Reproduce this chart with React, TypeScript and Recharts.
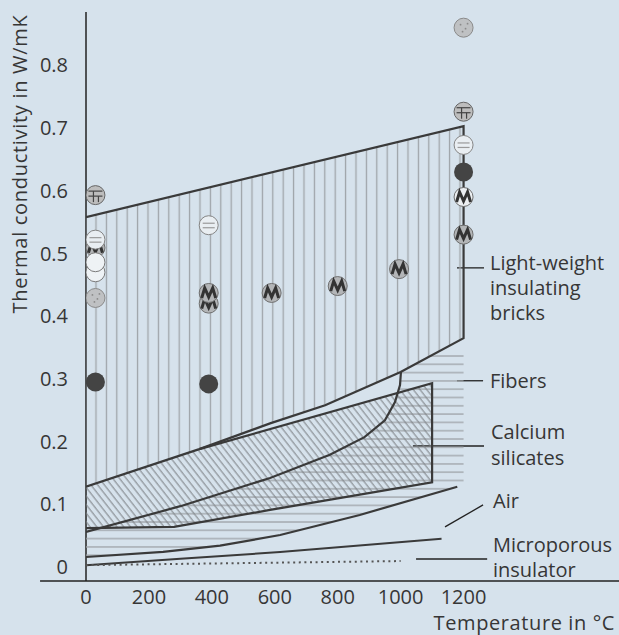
import React from "react";
import { ComposedChart, XAxis, YAxis, Scatter, ReferenceLine } from "recharts";

const BG = "#d6e2ec";
const INK = "#363636";
const DARK = "#3a3a3a";
const HATCH = "#9ea3a8";

const X_TICKS = [0, 200, 400, 600, 800, 1000, 1200];
const Y_TICKS = [0, 0.1, 0.2, 0.3, 0.4, 0.5, 0.6, 0.7, 0.8];
const X_MIN = 0;
const X_MAX = 1694;
const Y_MIN = -0.0223;
const Y_MAX = 0.885;

// band outlines (temperature °C, W/mK)
const BRICK_TOP = [
  { x: 0, y: 0.558 },
  { x: 1200, y: 0.703 },
];
const BRICK_BOTTOM = [
  { x: 0, y: 0.128 },
  { x: 360, y: 0.188 },
  { x: 585, y: 0.229 },
  { x: 760, y: 0.258 },
  { x: 1000, y: 0.311 },
  { x: 1200, y: 0.365 },
];
const CALCIUM_TOP = [
  { x: 0, y: 0.128 },
  { x: 360, y: 0.188 },
  { x: 1100, y: 0.293 },
];
const CALCIUM_BOTTOM = [
  { x: 0, y: 0.062 },
  { x: 280, y: 0.064 },
  { x: 585, y: 0.091 },
  { x: 1100, y: 0.135 },
];
const FIBER_TOP = [
  { x: 0, y: 0.056 },
  { x: 300, y: 0.097 },
  { x: 585, y: 0.142 },
  { x: 775, y: 0.179 },
  { x: 885, y: 0.207 },
  { x: 950, y: 0.234 },
  { x: 982, y: 0.263 },
  { x: 998, y: 0.29 },
  { x: 1001, y: 0.311 },
];
const FIBER_CAP = [
  { x: 1090, y: 0.337 },
  { x: 1200, y: 0.342 },
  { x: 1200, y: 0.131 },
];
const FIBER_BOTTOM = [
  { x: 0, y: 0.016 },
  { x: 245, y: 0.024 },
  { x: 426, y: 0.034 },
  { x: 617, y: 0.051 },
  { x: 870, y: 0.083 },
  { x: 1180, y: 0.128 },
];
const AIR = [
  { x: 0, y: 0.003 },
  { x: 300, y: 0.013 },
  { x: 617, y: 0.024 },
  { x: 1130, y: 0.045 },
];
const MICROPOROUS = [
  { x: 0, y: 0.003 },
  { x: 1000, y: 0.0095 },
];

// measured points for individual brick grades
const DOTS_ZIGZAG = [
  { x: 30, y: 0.509 },
  { x: 390, y: 0.42 },
  { x: 390, y: 0.437 },
  { x: 590, y: 0.437 },
  { x: 800, y: 0.448 },
  { x: 995, y: 0.475 },
  { x: 1200, y: 0.53 },
];
const DOTS_ZIGZAG_LIGHT = [{ x: 1200, y: 0.59 }];
const DOTS_OPEN = [
  { x: 30, y: 0.47 },
  { x: 30, y: 0.486 },
];
const DOTS_STRIPED = [
  { x: 30, y: 0.522 },
  { x: 390, y: 0.545 },
  { x: 1200, y: 0.673 },
];
const DOTS_GRID = [
  { x: 30, y: 0.593 },
  { x: 1200, y: 0.726 },
];
const DOTS_STIPPLE = [
  { x: 30, y: 0.429 },
  { x: 1200, y: 0.86 },
];
const DOTS_BLACK = [
  { x: 30, y: 0.295 },
  { x: 390, y: 0.292 },
  { x: 1200, y: 0.63 },
];

const BRICK_AREA = [...BRICK_TOP, ...[...BRICK_BOTTOM].reverse()];
const BRICK_OUTLINE = [...BRICK_TOP, ...[...BRICK_BOTTOM].reverse()];
const CALCIUM_AREA = [...CALCIUM_TOP, ...[...CALCIUM_BOTTOM].reverse()];
const CALCIUM_OUTLINE = [...CALCIUM_TOP.slice(1), ...[...CALCIUM_BOTTOM].reverse()];
const FIBER_AREA = [...FIBER_TOP, ...FIBER_CAP, ...[...FIBER_BOTTOM].reverse()];

const Hidden = () => <g />;
const R = 9.5;

function dot(kind: string) {
  return (p: any) => {
    const { cx, cy } = p;
    if (cx == null || cy == null) return <g />;
    if (kind === "black") return <circle cx={cx} cy={cy} r={R} fill="#444" />;
    if (kind === "open")
      return <circle cx={cx} cy={cy} r={R} fill="#eef2f5" stroke="#7a7a7a" strokeWidth={1} />;
    if (kind === "stipple")
      return (
        <g>
          <circle cx={cx} cy={cy} r={R} fill="#bfc1c3" stroke="#8a8a8a" strokeWidth={1} />
          <circle cx={cx - 3} cy={cy - 3} r={0.9} fill="#8a8a8a" />
          <circle cx={cx + 2} cy={cy + 1} r={0.9} fill="#8a8a8a" />
          <circle cx={cx - 1} cy={cy + 4} r={0.9} fill="#8a8a8a" />
          <circle cx={cx + 4} cy={cy - 4} r={0.9} fill="#8a8a8a" />
        </g>
      );
    if (kind === "striped")
      return (
        <g>
          <circle cx={cx} cy={cy} r={R} fill="#e9eef2" stroke="#858585" strokeWidth={1} />
          <line x1={cx - 6} y1={cy - 2} x2={cx + 6} y2={cy - 2} stroke="#9a9a9a" strokeWidth={1.2} />
          <line x1={cx - 6} y1={cy + 2.5} x2={cx + 6} y2={cy + 2.5} stroke="#9a9a9a" strokeWidth={1.2} />
        </g>
      );
    if (kind === "grid")
      return (
        <g>
          <circle cx={cx} cy={cy} r={R} fill="#bdbdbd" stroke="#666" strokeWidth={1} />
          <line x1={cx - 7} y1={cy - 4} x2={cx + 7} y2={cy - 4} stroke="#444" strokeWidth={1.2} />
          <line x1={cx - 7} y1={cy + 1} x2={cx + 7} y2={cy + 1} stroke="#444" strokeWidth={1.2} />
          <line x1={cx - 2} y1={cy - 4} x2={cx - 2} y2={cy + 7} stroke="#444" strokeWidth={1.2} />
          <line x1={cx + 3} y1={cy + 1} x2={cx + 3} y2={cy + 7} stroke="#444" strokeWidth={1.2} />
        </g>
      );
    const light = kind === "zigzagLight";
    return (
      <g>
        <circle cx={cx} cy={cy} r={R} fill={light ? "#eceff2" : "#b3b5b7"} stroke="#6f6f6f" strokeWidth={1} />
        <path
          d={`M${cx - 7} ${cy + 5} L${cx - 4} ${cy - 5} L${cx} ${cy + 4} L${cx + 4} ${cy - 5} L${cx + 7} ${cy + 5}`}
          fill="none"
          stroke="#333"
          strokeWidth={3}
        />
      </g>
    );
  };
}

const Title = ({ children, ...rest }: any) => (
  <text fill={INK} fontSize={20} {...rest}>
    {children}
  </text>
);

export default function App() {
  return (
    <div
      style={{
        position: "absolute",
        left: 0,
        top: 0,
        width: 619,
        height: 635,
        background: BG,
        fontFamily: '"Open Sans", sans-serif',
      }}
    >
      <ComposedChart width={619} height={635} margin={{ top: 12, right: 0, bottom: 0, left: 0 }}>
        <defs>
          <pattern id="vlines" patternUnits="userSpaceOnUse" width={10.4} height={10}>
            <line x1={2.4} y1={0} x2={2.4} y2={10} stroke={HATCH} strokeWidth={1.3} />
          </pattern>
          <pattern id="hlines" patternUnits="userSpaceOnUse" width={10} height={8.3}>
            <line x1={0} y1={7.4} x2={10} y2={7.4} stroke={HATCH} strokeWidth={1.3} />
          </pattern>
          <pattern
            id="diag"
            patternUnits="userSpaceOnUse"
            width={5.3}
            height={10}
            patternTransform="rotate(-38)"
          >
            <line x1={1} y1={0} x2={1} y2={10} stroke="#7d8186" strokeWidth={1} />
          </pattern>
        </defs>
        <XAxis
          type="number"
          dataKey="x"
          domain={[X_MIN, X_MAX]}
          ticks={X_TICKS}
          interval={0}
          allowDataOverflow
          height={54}
          tickLine={false}
          tickMargin={3}
          axisLine={{ stroke: "#222", strokeWidth: 1.5 }}
          tick={{ fill: INK, fontSize: 20 }}
          label={() => (
            <text x={615} y={630} textAnchor="end" fill={INK} fontSize={20} letterSpacing={0.6}>
              Temperature in °C
            </text>
          )}
        />
        <YAxis
          type="number"
          dataKey="y"
          domain={[Y_MIN, Y_MAX]}
          ticks={Y_TICKS}
          interval={0}
          allowDataOverflow
          width={86}
          tickLine={false}
          tickMargin={12}
          axisLine={{ stroke: "#222", strokeWidth: 1.5 }}
          tick={{ fill: INK, fontSize: 20 }}
          tickFormatter={(v: number) => (v === 0 ? "0" : v.toFixed(1))}
          label={() => (
            <text
              transform="translate(27,164) rotate(-90)"
              textAnchor="middle"
              fill={INK}
              fontSize={20}
              letterSpacing={0.7}
            >
              Thermal conductivity in W/mK
            </text>
          )}
        />

        {/* hatched bands */}
        <Scatter data={FIBER_AREA} line={{ fill: "url(#hlines)", stroke: "none" }} shape={Hidden} isAnimationActive={false} />
        <Scatter data={CALCIUM_AREA} line={{ fill: "url(#diag)", stroke: "none" }} shape={Hidden} isAnimationActive={false} />
        <Scatter data={BRICK_AREA} line={{ fill: "url(#vlines)", stroke: "none" }} shape={Hidden} isAnimationActive={false} />

        {/* outlines */}
        <Scatter data={BRICK_OUTLINE} line={{ fill: "none", stroke: DARK, strokeWidth: 2.2 }} shape={Hidden} isAnimationActive={false} />
        <Scatter data={CALCIUM_OUTLINE} line={{ fill: "none", stroke: DARK, strokeWidth: 2.2 }} shape={Hidden} isAnimationActive={false} />
        <Scatter data={FIBER_TOP} line={{ fill: "none", stroke: DARK, strokeWidth: 2.2 }} shape={Hidden} isAnimationActive={false} />
        <Scatter data={FIBER_BOTTOM} line={{ fill: "none", stroke: DARK, strokeWidth: 2.2 }} shape={Hidden} isAnimationActive={false} />
        <Scatter data={AIR} line={{ fill: "none", stroke: DARK, strokeWidth: 2 }} shape={Hidden} isAnimationActive={false} />
        <Scatter
          data={MICROPOROUS}
          line={{ fill: "none", stroke: "#555", strokeWidth: 2, strokeDasharray: "2 3.6" }}
          shape={Hidden}
          isAnimationActive={false}
        />

        {/* measured bricks */}
        <Scatter data={DOTS_ZIGZAG} shape={dot("zigzag")} isAnimationActive={false} />
        <Scatter data={DOTS_ZIGZAG_LIGHT} shape={dot("zigzagLight")} isAnimationActive={false} />
        <Scatter data={DOTS_OPEN} shape={dot("open")} isAnimationActive={false} />
        <Scatter data={DOTS_STRIPED} shape={dot("striped")} isAnimationActive={false} />
        <Scatter data={DOTS_GRID} shape={dot("grid")} isAnimationActive={false} />
        <Scatter data={DOTS_STIPPLE} shape={dot("stipple")} isAnimationActive={false} />
        <Scatter data={DOTS_BLACK} shape={dot("black")} isAnimationActive={false} />

        {/* x axis stub left of the y axis */}
        <ReferenceLine
          segment={[{ x: -146, y: Y_MIN }, { x: 0, y: Y_MIN }]}
          stroke="#222"
          strokeWidth={1.5}
          ifOverflow="visible"
        />

        {/* label pointers */}
        <ReferenceLine segment={[{ x: 1179, y: 0.477 }, { x: 1265, y: 0.477 }]} stroke="#222" strokeWidth={1.3} ifOverflow="visible" />
        <ReferenceLine segment={[{ x: 1179, y: 0.297 }, { x: 1262, y: 0.297 }]} stroke="#222" strokeWidth={1.3} ifOverflow="visible" />
        <ReferenceLine segment={[{ x: 1039, y: 0.193 }, { x: 1265, y: 0.193 }]} stroke="#222" strokeWidth={1.3} ifOverflow="visible" />
        <ReferenceLine segment={[{ x: 1141, y: 0.064 }, { x: 1262, y: 0.099 }]} stroke="#222" strokeWidth={1.3} ifOverflow="visible" />
        <ReferenceLine segment={[{ x: 1049, y: 0.0128 }, { x: 1275, y: 0.0128 }]} stroke="#222" strokeWidth={1.3} ifOverflow="visible" />

        <Title x={490} y={270}>Light-weight</Title>
        <Title x={490} y={295}>insulating</Title>
        <Title x={490} y={320}>bricks</Title>
        <Title x={490} y={388}>Fibers</Title>
        <Title x={491} y={439}>Calcium</Title>
        <Title x={491} y={465}>silicates</Title>
        <Title x={493} y={508}>Air</Title>
        <Title x={493} y={552}>Microporous</Title>
        <Title x={493} y={577}>insulator</Title>
      </ComposedChart>
    </div>
  );
}
